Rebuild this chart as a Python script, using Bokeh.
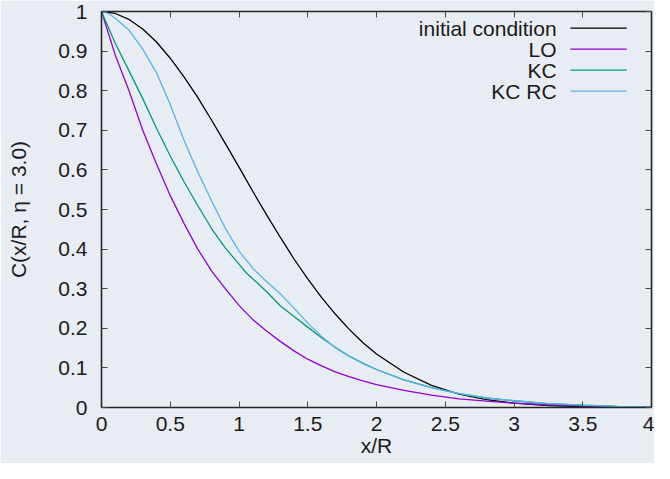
from bokeh.plotting import figure
from bokeh.models import LinearAxis, FixedTicker, Range1d, Label
from bokeh.embed import file_html
from bokeh.resources import INLINE

# ---- data ----
x_init = [0, 0.1, 0.2, 0.3, 0.4, 0.5, 0.6, 0.7, 0.8, 0.9, 1.0, 1.1, 1.2, 1.3, 1.4, 1.5,
          1.6, 1.7, 1.8, 1.9, 2.0, 2.2, 2.4, 2.6, 2.8, 3.0, 3.25, 3.5, 3.75, 4.0]
c_init = [1.0, 0.995, 0.980, 0.956, 0.923, 0.882, 0.835, 0.783, 0.726, 0.667, 0.607, 0.546,
          0.487, 0.430, 0.375, 0.325, 0.278, 0.236, 0.198, 0.164, 0.135, 0.089, 0.056,
          0.034, 0.020, 0.011, 0.005, 0.002, 0.001, 0.0003]

x_lo = [0, 0.05, 0.1, 0.2, 0.3, 0.4, 0.5, 0.6, 0.7, 0.8, 0.9, 1.0, 1.1, 1.2, 1.3, 1.4,
        1.5, 1.6, 1.7, 1.8, 1.9, 2.0, 2.2, 2.4, 2.6, 2.8, 3.0, 3.25, 3.5, 3.75, 4.0]
c_lo = [1.0, 0.945, 0.89, 0.80, 0.70, 0.615, 0.535, 0.465, 0.400, 0.345, 0.300, 0.258,
        0.222, 0.193, 0.167, 0.143, 0.122, 0.105, 0.090, 0.078, 0.067, 0.058, 0.043,
        0.031, 0.022, 0.016, 0.011, 0.007, 0.004, 0.002, 0.001]

x_kc = [0, 0.1, 0.2, 0.3, 0.4, 0.5, 0.6, 0.7, 0.8, 0.9, 1.0, 1.05, 1.1, 1.2, 1.3, 1.4,
        1.5, 1.6, 1.7, 1.8, 1.9, 2.0, 2.2, 2.4, 2.6, 2.8, 3.0, 3.25, 3.5, 3.75, 4.0]
c_kc = [1.0, 0.92, 0.85, 0.78, 0.705, 0.635, 0.57, 0.51, 0.452, 0.403, 0.362, 0.341,
        0.325, 0.293, 0.257, 0.230, 0.203, 0.176, 0.152, 0.130, 0.112, 0.096, 0.070,
        0.050, 0.035, 0.024, 0.017, 0.010, 0.006, 0.003, 0.001]

x_rc = [0, 0.05, 0.1, 0.15, 0.2, 0.3, 0.4, 0.5, 0.6, 0.7, 0.8, 0.9, 1.0, 1.1, 1.2, 1.3,
        1.4, 1.5, 1.6, 1.7, 1.8, 1.9, 2.0, 2.2, 2.4, 2.6, 2.8, 3.0, 3.25, 3.5, 3.75, 4.0]
c_rc = [1.0, 0.995, 0.983, 0.968, 0.953, 0.905, 0.845, 0.765, 0.675, 0.595, 0.522, 0.453,
        0.395, 0.352, 0.318, 0.287, 0.251, 0.213, 0.180, 0.151, 0.129, 0.111, 0.096,
        0.070, 0.050, 0.035, 0.024, 0.017, 0.010, 0.006, 0.003, 0.001]

series_names = ["initial condition", "LO", "KC", "KC RC"]
series_colors = ["#000000", "#9400d3", "#009e73", "#56b4e9"]

x_ticks = [0, 0.5, 1, 1.5, 2, 2.5, 3, 3.5, 4]
x_tick_labels = ["0", "0.5", "1", "1.5", "2", "2.5", "3", "3.5", "4"]
y_ticks = [0, 0.1, 0.2, 0.3, 0.4, 0.5, 0.6, 0.7, 0.8, 0.9, 1]
y_tick_labels = ["0", "0.1", "0.2", "0.3", "0.4", "0.5", "0.6", "0.7", "0.8", "0.9", "1"]

x_title = "x/R"
y_title = "C(x/R, \u03b7 = 3.0)"

# ---- styling ----
BG = "#e8ecf3"
FONT = "Liberation Sans"
FS = "21px"
AXIS_COLOR = "#262626"
TICK_COLOR = "#4a4a4a"

p = figure(width=654, height=463, x_range=Range1d(0, 4), y_range=Range1d(0, 1),
           output_backend="svg", toolbar_location=None,
           min_border_left=101, min_border_right=3, min_border_top=11, min_border_bottom=56,
           background_fill_color=BG, border_fill_color=BG)
p.outline_line_color = None
p.grid.visible = False


def style_axis(ax, ticks, labels, show_labels):
    ax.ticker = FixedTicker(ticks=ticks)
    ax.major_tick_in = 6
    ax.major_tick_out = 0
    ax.minor_tick_line_color = None
    ax.major_tick_line_color = TICK_COLOR
    ax.major_tick_line_width = 1
    ax.axis_line_color = AXIS_COLOR
    ax.axis_line_width = 1.6
    if show_labels:
        ax.major_label_overrides = dict(zip(ticks, labels))
        ax.major_label_text_font = FONT
        ax.major_label_text_font_size = FS
        ax.major_label_text_color = "#1a1a1a"
    else:
        ax.major_label_text_color = None
        ax.major_label_text_font_size = "0px"
        ax.major_label_standoff = 0


xa = p.xaxis[0]
style_axis(xa, x_ticks, x_tick_labels, True)
xa.major_label_standoff = 9
xa.axis_label = x_title
xa.axis_label_text_font = FONT
xa.axis_label_text_font_size = FS
xa.axis_label_text_font_style = "normal"
xa.axis_label_text_color = "#1a1a1a"
xa.axis_label_standoff = 0

ya = p.yaxis[0]
style_axis(ya, y_ticks, y_tick_labels, True)
ya.major_label_standoff = 14
ya.axis_label = y_title
ya.axis_label_text_font = FONT
ya.axis_label_text_font_size = FS
ya.axis_label_text_font_style = "normal"
ya.axis_label_text_color = "#1a1a1a"
ya.axis_label_standoff = 25

ra = LinearAxis()
style_axis(ra, y_ticks, y_tick_labels, False)
p.add_layout(ra, "right")
ta = LinearAxis()
style_axis(ta, x_ticks, x_tick_labels, False)
p.add_layout(ta, "above")

series = [(x_init, c_init), (x_lo, c_lo), (x_kc, c_kc), (x_rc, c_rc)]
for (xs, ys), col in zip(series, series_colors):
    p.line(xs, ys, line_color=col, line_width=1.3)

# ---- gnuplot-style key (text right-aligned, sample to its right) ----
key_text_x = 3.31
key_line_x0, key_line_x1 = 3.41, 3.82
key_rows = [0.958, 0.905, 0.852, 0.799]
for name, col, yr in zip(series_names, series_colors, key_rows):
    p.add_layout(Label(x=key_text_x, y=yr, text=name, text_align="right",
                       text_baseline="middle", text_font=FONT, text_font_size=FS,
                       text_color="#1a1a1a"))
p.segment(x0=[key_line_x0] * 4, x1=[key_line_x1] * 4, y0=key_rows, y1=key_rows,
          line_color=series_colors, line_width=1.3)

open("out.html", "w").write(file_html(p, INLINE))
